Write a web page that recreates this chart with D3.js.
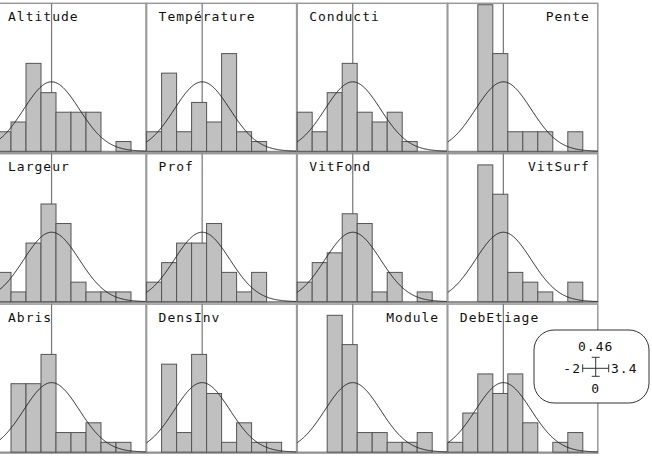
<!DOCTYPE html>
<html><head><meta charset="utf-8">
<script src="https://cdn.jsdelivr.net/npm/d3@7"></script>
<style>
html,body{margin:0;padding:0;background:#fff;}
svg{display:block;}
text{font-family:"DejaVu Sans Mono",monospace;}
</style></head>
<body>
<svg id="chart" width="652" height="457"></svg>
<script>
// ---- data ----
const variables = ["Altitude","Température","Conducti","Pente","Largeur","Prof","VitFond","VitSurf","Abris","DensInv","Module","DebEtiage"];
const labelSide = ["start","start","start","end","start","start","start","end","start","start","end","start"];
const breaks = [-2, -1.46, -0.92, -0.38, 0.16, 0.70, 1.24, 1.78, 2.32, 2.86, 3.4];
const nObs = 33;
const cAltitude    = [2, 3, 9, 6, 4, 4, 4, 0, 1, 0];
const cTemperature = [2, 8, 2, 5, 3, 10, 2, 1, 0, 0];
const cConducti    = [4, 2, 6, 9, 4, 3, 4, 1, 0, 0];
const cPente       = [0, 0, 15, 10, 2, 2, 2, 0, 2, 0];
const cLargeur     = [3, 1, 6, 10, 8, 2, 1, 1, 1, 0];
const cProf        = [2, 4, 6, 6, 8, 3, 1, 3, 0, 0];
const cVitFond     = [2, 4, 5, 9, 8, 1, 3, 0, 1, 0];
const cVitSurf     = [0, 0, 14, 11, 3, 2, 1, 0, 2, 0];
const cAbris       = [0, 7, 7, 10, 2, 2, 3, 1, 1, 0];
const cDensInv     = [0, 9, 2, 10, 6, 1, 3, 1, 1, 0];
const cModule      = [0, 0, 14, 11, 2, 2, 1, 1, 2, 0];
const cDebEtiage   = [1, 4, 8, 6, 8, 3, 0, 1, 2, 0];
const allCounts = [cAltitude,cTemperature,cConducti,cPente,cLargeur,cProf,cVitFond,cVitSurf,cAbris,cDensInv,cModule,cDebEtiage];
const legendX = ["-2", "3.4"];
const legendY = ["0", "0.46"];
const xDomain = [-2, 3.4];
const yDomain = [0, 0.85];

// ---- layout ----
const svg = d3.select("#chart");
const ncol = 4;
const pw = 150, ph = 148;
const colX = c => -4 + 150.6 * c;
const rowY = r => 3.3 + 150.4 * r;
const x = d3.scaleLinear().domain(xDomain).range([0, pw]);
const y = d3.scaleLinear().domain(yDomain).range([ph, 0]);
const binW = breaks[1] - breaks[0];

const curvePts = d3.range(xDomain[0], xDomain[1] + 0.001, 0.02)
  .map(v => [v, Math.exp(-v * v / 2) / Math.sqrt(2 * Math.PI)]);
const line = d3.line().x(d => x(d[0])).y(d => y(d[1]));

variables.forEach((name, i) => {
  const c = i % ncol, r = Math.floor(i / ncol);
  const g = svg.append("g").attr("transform", `translate(${colX(c)},${rowY(r)})`);
  g.append("rect").attr("x", 0).attr("y", 0).attr("width", pw).attr("height", ph + 1)
    .attr("fill", "#fff").attr("stroke", "#9a9a9a").attr("stroke-width", 1.5);
  g.append("line").attr("x1", x(0)).attr("x2", x(0)).attr("y1", 0).attr("y2", ph + 1)
    .attr("stroke", "#777").attr("stroke-width", 1.2);
  g.append("line").attr("x1", 0).attr("x2", pw).attr("y1", y(0)).attr("y2", y(0))
    .attr("stroke", "#777").attr("stroke-width", 1);
  const bins = allCounts[i].map((n, k) => ({x0: breaks[k], x1: breaks[k + 1], d: n / (nObs * binW)}))
    .filter(b => b.d > 0);
  g.selectAll("rect.bar").data(bins).join("rect").attr("class", "bar")
    .attr("x", b => x(b.x0)).attr("width", b => x(b.x1) - x(b.x0))
    .attr("y", b => y(b.d)).attr("height", b => y(0) - y(b.d))
    .attr("fill", "#c0c0c0").attr("stroke", "#555").attr("stroke-width", 1);
  g.append("path").attr("d", line(curvePts)).attr("fill", "none")
    .attr("stroke", "#222").attr("stroke-width", 1);
  const side = labelSide[i];
  g.append("text").attr("x", side === "start" ? 12 : pw - 8).attr("y", 17.5)
    .attr("text-anchor", side).attr("font-size", 13).attr("letter-spacing", 1)
    .attr("fill", "#111").text(name);
});

// ---- legend ----
const lg = svg.append("g");
lg.append("rect").attr("x", 534).attr("y", 330).attr("width", 115).attr("height", 73)
  .attr("rx", 20).attr("ry", 20).attr("fill", "#fff").attr("stroke", "#333").attr("stroke-width", 1);
const cx = 595.7, cy = 368.3;
const tf = {"font-size": 13, "letter-spacing": 1, "fill": "#111"};
function txt(t, xx, yy, anchor) {
  const e = lg.append("text").attr("x", xx).attr("y", yy).attr("text-anchor", anchor).text(t);
  Object.entries(tf).forEach(([k, v]) => e.attr(k, v));
}
txt(legendY[1], cx, 351, "middle");
txt(legendY[0], cx, 392.5, "middle");
txt(legendX[0], 581, 372.5, "end");
txt(legendX[1], 611, 372.5, "start");
const cross = [[cx - 13, cy, cx + 13, cy], [cx, cy - 11, cx, cy + 8],
  [cx - 13, cy - 4, cx - 13, cy + 4], [cx + 13, cy - 4, cx + 13, cy + 4],
  [cx - 4, cy - 11, cx + 4, cy - 11], [cx - 4, cy + 8, cx + 4, cy + 8]];
lg.selectAll("line").data(cross).join("line")
  .attr("x1", d => d[0]).attr("y1", d => d[1]).attr("x2", d => d[2]).attr("y2", d => d[3])
  .attr("stroke", "#333").attr("stroke-width", 1);
</script>
</body></html>
